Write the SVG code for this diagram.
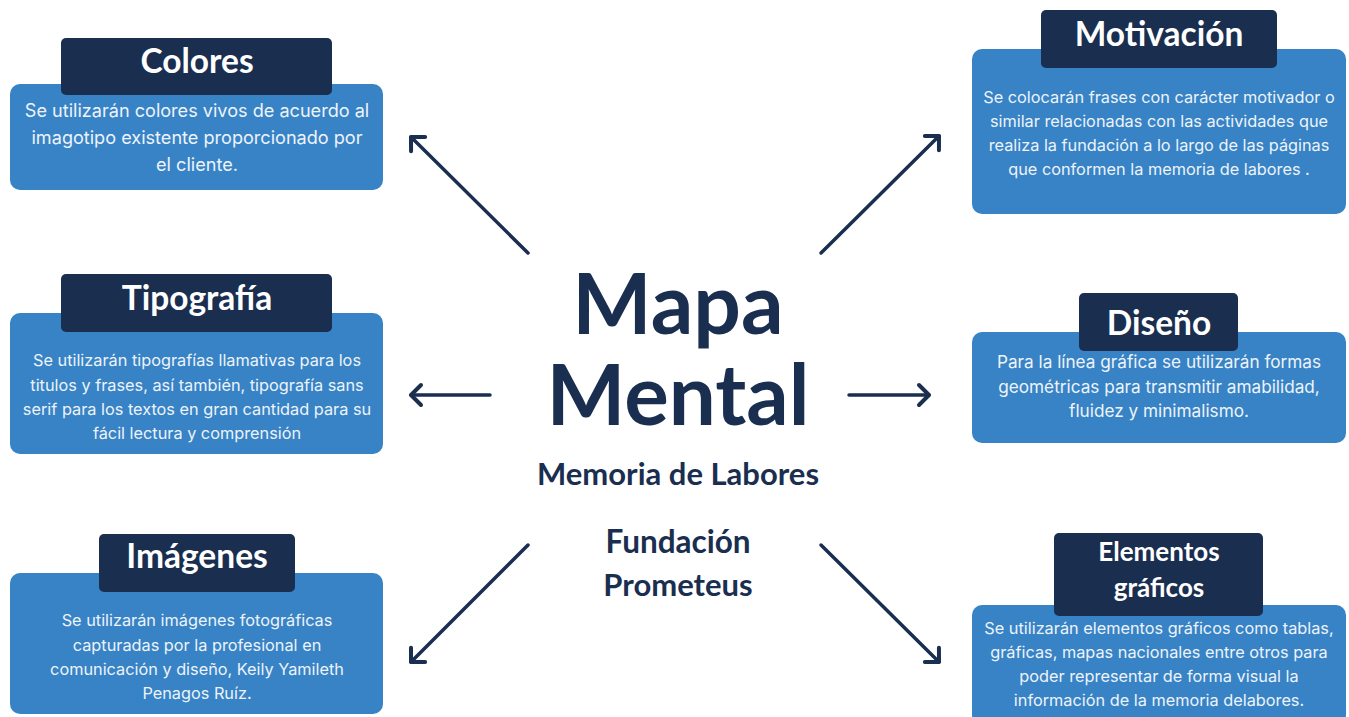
<svg xmlns="http://www.w3.org/2000/svg" width="1349" height="717" viewBox="0 0 1349 717">
<defs>
<style>
.box{fill:#3783c6}
.hdr{fill:#1a2e50}
.title{font-family:Lato,"Open Sans",sans-serif;font-weight:700;fill:#ffffff;text-anchor:middle}
.body{font-family:Inter,"Open Sans",sans-serif;fill:#eef3f9;text-anchor:middle;font-size:16.3px}
.b18{font-size:18.1px}
.b17{font-size:17.2px}
.center{font-family:Lato,"Open Sans",sans-serif;font-weight:700;fill:#1a2e50;text-anchor:middle}
.conn{stroke:#1a2e50;stroke-width:3.5;fill:none;stroke-linecap:round}
</style>
<marker id="ah" markerUnits="userSpaceOnUse" markerWidth="30" markerHeight="30" refX="15" refY="15" orient="auto">
<path d="M5,5 L15,15 L5,25" fill="none" stroke="#1a2e50" stroke-width="4" stroke-linecap="round" stroke-linejoin="round"/>
</marker>
</defs>
<rect width="1349" height="717" fill="#ffffff"/>
<g id="connectors">
<line class="conn" x1="528" y1="253" x2="411" y2="137" marker-end="url(#ah)"/>
<line class="conn" x1="821" y1="253" x2="939" y2="136" marker-end="url(#ah)"/>
<line class="conn" x1="490" y1="395" x2="411" y2="395" marker-end="url(#ah)"/>
<line class="conn" x1="849" y1="395" x2="929" y2="395" marker-end="url(#ah)"/>
<line class="conn" x1="528" y1="545" x2="411" y2="662" marker-end="url(#ah)"/>
<line class="conn" x1="821" y1="545" x2="939" y2="662" marker-end="url(#ah)"/>
</g>
<g id="center">
<text class="center" x="678" y="334" font-size="84">Mapa</text>
<text class="center" x="678" y="425" font-size="83.5">Mental</text>
<text class="center" x="678" y="485" font-size="31">Memoria de Labores</text>
<text class="center" x="678" y="553" font-size="31.5">Fundación</text>
<text class="center" x="678" y="596" font-size="31">Prometeus</text>
</g>
<g id="colores">
<rect class="box" x="10" y="84" width="373" height="106" rx="10"/>
<rect class="hdr" x="61" y="38" width="271" height="57" rx="5"/>
<text class="title" x="197" y="73" font-size="33.5">Colores</text>
<text class="body b18" x="197" y="117">Se utilizarán colores vivos de acuerdo al</text>
<text class="body b18" x="197" y="144">imagotipo existente proporcionado por</text>
<text class="body b18" x="197" y="171">el cliente.</text>
</g>
<g id="motivacion">
<rect class="box" x="972" y="49" width="374" height="165" rx="10"/>
<rect class="hdr" x="1041" y="10" width="236" height="58" rx="5"/>
<text class="title" x="1159" y="46" font-size="33.5">Motivación</text>
<text class="body" x="1159" y="103">Se colocarán frases con carácter motivador o</text>
<text class="body" x="1159" y="127">similar relacionadas con las actividades que</text>
<text class="body" x="1159" y="151">realiza la fundación a lo largo de las páginas</text>
<text class="body" x="1159" y="175">que conformen la memoria de labores .</text>
</g>
<g id="tipografia">
<rect class="box" x="10" y="313" width="373" height="141" rx="10"/>
<rect class="hdr" x="61" y="274" width="271" height="58" rx="5"/>
<text class="title" x="197" y="310" font-size="33.5">Tipografía</text>
<text class="body" x="197" y="366">Se utilizarán tipografías llamativas para los</text>
<text class="body" x="197" y="391">titulos y frases, así también, tipografía sans</text>
<text class="body" x="197" y="415">serif para los textos en gran cantidad para su</text>
<text class="body" x="197" y="439">fácil lectura y comprensión</text>
</g>
<g id="diseno">
<rect class="box" x="972" y="332" width="374" height="111" rx="10"/>
<rect class="hdr" x="1079" y="293" width="159" height="58" rx="5"/>
<text class="title" x="1159" y="335" font-size="33.5">Diseño</text>
<text class="body b17" x="1159" y="368">Para la línea gráfica se utilizarán formas</text>
<text class="body b17" x="1159" y="393">geométricas para transmitir amabilidad,</text>
<text class="body b17" x="1159" y="417">fluidez y minimalismo.</text>
</g>
<g id="imagenes">
<rect class="box" x="10" y="573" width="373" height="141" rx="10"/>
<rect class="hdr" x="99" y="534" width="196" height="58" rx="5"/>
<text class="title" x="197" y="568" font-size="33.5">Imágenes</text>
<text class="body" x="197" y="626">Se utilizarán imágenes fotográficas</text>
<text class="body" x="197" y="651">capturadas por la profesional en</text>
<text class="body" x="197" y="675">comunicación y diseño, Keily Yamileth</text>
<text class="body" x="197" y="699">Penagos Ruíz.</text>
</g>
<g id="elementos">
<rect class="box" x="972" y="605" width="374" height="120" rx="10"/>
<rect class="hdr" x="1054" y="533" width="209" height="83" rx="5"/>
<text class="title" x="1159" y="561" font-size="26">Elementos</text>
<text class="title" x="1159" y="597" font-size="26">gráficos</text>
<text class="body" x="1159" y="634">Se utilizarán elementos gráficos como tablas,</text>
<text class="body" x="1159" y="658">gráficas, mapas nacionales entre otros para</text>
<text class="body" x="1159" y="682">poder representar de forma visual la</text>
<text class="body" x="1159" y="706">información de la memoria delabores.</text>
</g>
</svg>
